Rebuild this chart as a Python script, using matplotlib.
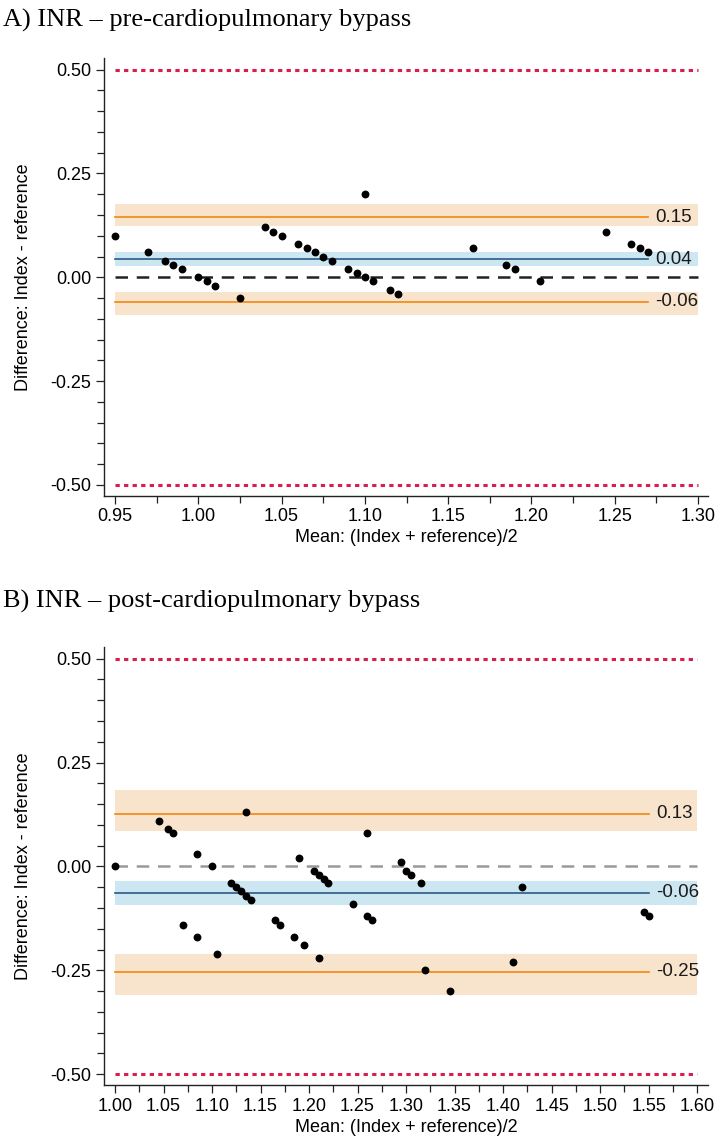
import numpy as np
import matplotlib
matplotlib.use("Agg")
import matplotlib.pyplot as plt
from matplotlib.ticker import MultipleLocator, FormatStrFormatter

# Panel A: pre-cardiopulmonary bypass (mean vs difference)
pre_mean = [0.950, 0.970, 0.980, 0.985, 0.990, 1.000, 1.005, 1.010, 1.025,
            1.040, 1.045, 1.050, 1.060, 1.065, 1.070, 1.075, 1.080, 1.090,
            1.095, 1.100, 1.100, 1.105, 1.115, 1.120, 1.165, 1.185, 1.190,
            1.205, 1.245, 1.260, 1.265, 1.270]
pre_diff = [0.10, 0.06, 0.04, 0.03, 0.02, 0.00, -0.01, -0.02, -0.05,
            0.12, 0.11, 0.10, 0.08, 0.07, 0.06, 0.05, 0.04, 0.02,
            0.01, 0.00, 0.20, -0.01, -0.03, -0.04, 0.07, 0.03, 0.02,
            -0.01, 0.11, 0.08, 0.07, 0.06]
# bias, lower/upper limits of agreement and their confidence bands
pre_bias = 0.043
pre_bias_ci = (0.028, 0.060)
pre_loa = (-0.059, 0.145)
pre_loa_lo_ci = (-0.090, -0.035)
pre_loa_hi_ci = (0.123, 0.176)
pre_labels = ["0.15", "0.04", "-0.06"]
pre_xticks = [0.95, 1.00, 1.05, 1.10, 1.15, 1.20, 1.25, 1.30]

# Panel B: post-cardiopulmonary bypass
post_mean = [1.000, 1.045, 1.055, 1.060, 1.085, 1.100, 1.070, 1.085, 1.105,
             1.120, 1.125, 1.130, 1.135, 1.140, 1.135, 1.165, 1.170, 1.185,
             1.195, 1.210, 1.190, 1.205, 1.210, 1.215, 1.220, 1.245, 1.260,
             1.260, 1.265, 1.295, 1.300, 1.305, 1.315, 1.320, 1.345, 1.410,
             1.420, 1.545, 1.550]
post_diff = [0.00, 0.11, 0.09, 0.08, 0.03, 0.00, -0.14, -0.17, -0.21,
             -0.04, -0.05, -0.06, -0.07, -0.08, 0.13, -0.13, -0.14, -0.17,
             -0.19, -0.22, 0.02, -0.01, -0.02, -0.03, -0.04, -0.09, 0.08,
             -0.12, -0.13, 0.01, -0.01, -0.02, -0.04, -0.25, -0.30, -0.23,
             -0.05, -0.11, -0.12]
post_bias = -0.063
post_bias_ci = (-0.092, -0.035)
post_loa = (-0.253, 0.127)
post_loa_lo_ci = (-0.310, -0.211)
post_loa_hi_ci = (0.086, 0.183)
post_labels = ["0.13", "-0.06", "-0.25"]
post_xticks = [1.00, 1.05, 1.10, 1.15, 1.20, 1.25, 1.30, 1.35, 1.40, 1.45,
               1.50, 1.55, 1.60]

ORANGE = "#F0880F"
ORANGE_BAND = "#F8E4CC"
BLUE = "#2C5A85"
BLUE_BAND = "#CCE7F2"
RED = "#D81E4E"

plt.rcParams['font.family'] = ['Liberation Sans', 'DejaVu Sans']


def bland_altman(ax, x, d, bias, bias_ci, loa, lo_ci, hi_ci, labels, xticks,
                 zero_color, xlim):
    x0, x1 = xticks[0], xticks[-1]
    xmax = max(x)
    # confidence bands
    ax.fill_between([x0, x1], hi_ci[0], hi_ci[1], color=ORANGE_BAND, lw=0, zorder=1)
    ax.fill_between([x0, x1], lo_ci[0], lo_ci[1], color=ORANGE_BAND, lw=0, zorder=1)
    ax.fill_between([x0, x1], bias_ci[0], bias_ci[1], color=BLUE_BAND, lw=0, zorder=1)
    # reference lines
    ax.plot([x0, x1], [0.5, 0.5], color=RED, lw=2.2, ls=(0, (1.4, 1.4)), zorder=2)
    ax.plot([x0, x1], [-0.5, -0.5], color=RED, lw=2.2, ls=(0, (1.4, 1.4)), zorder=2)
    ax.plot([x0, x1], [0, 0], color=zero_color, lw=1.8, ls=(0, (5, 3.5)), zorder=2)
    ax.plot([x0, xmax], [loa[1], loa[1]], color=ORANGE, lw=1.2, zorder=3)
    ax.plot([x0, xmax], [loa[0], loa[0]], color=ORANGE, lw=1.2, zorder=3)
    ax.plot([x0, xmax], [bias, bias], color=BLUE, lw=1.2, zorder=3)
    # values at the line ends
    dx = (xlim[1] - xlim[0]) * 0.012
    for yv, txt in zip([loa[1], bias, loa[0]], labels):
        ax.text(xmax + dx, yv, txt, va='center', ha='left', fontsize=13.5,
                color='#1a1a1a', zorder=4)
    ax.scatter(x, d, s=32, color='black', zorder=5, linewidths=0)

    ax.set_xlim(*xlim)
    ax.set_ylim(-0.526, 0.528)
    ax.set_xticks(xticks)
    ax.xaxis.set_minor_locator(MultipleLocator(0.025))
    ax.xaxis.set_major_formatter(FormatStrFormatter('%.2f'))
    ax.yaxis.set_major_locator(MultipleLocator(0.25))
    ax.yaxis.set_minor_locator(MultipleLocator(0.05))
    ax.yaxis.set_major_formatter(FormatStrFormatter('%.2f'))
    for s in ['top', 'right']:
        ax.spines[s].set_visible(False)
    for s in ['left', 'bottom']:
        ax.spines[s].set_color('#222222')
        ax.spines[s].set_linewidth(1.0)
    ax.tick_params(which='major', length=6, width=0.9, color='#222222',
                   labelsize=13, pad=3)
    ax.tick_params(which='minor', length=5, width=0.9, color='#222222')
    ax.set_xlabel('Mean: (Index + reference)/2', fontsize=13, labelpad=3)
    ax.set_ylabel('Difference: Index - reference', fontsize=13)
    ax.yaxis.set_label_coords(-0.119, 0.5)


fig = plt.figure(figsize=(7.16, 11.37), dpi=100)
ax1 = fig.add_axes([0.1453, 0.564, 0.8436, 0.385])
ax2 = fig.add_axes([0.1453, 0.0457, 0.8436, 0.3853])

bland_altman(ax1, pre_mean, pre_diff, pre_bias, pre_bias_ci, pre_loa,
             pre_loa_lo_ci, pre_loa_hi_ci, pre_labels, pre_xticks,
             '#222222', (0.9434, 1.3060))
bland_altman(ax2, post_mean, post_diff, post_bias, post_bias_ci, post_loa,
             post_loa_lo_ci, post_loa_hi_ci, post_labels, post_xticks,
             '#999999', (0.9887, 1.6113))

fig.text(0.004, 1 - 27 / 1137, 'A) INR \u2013 pre-cardiopulmonary bypass',
         family='Liberation Serif', fontsize=19, va='baseline', ha='left')
fig.text(0.004, 1 - 608 / 1137, 'B) INR \u2013 post-cardiopulmonary bypass',
         family='Liberation Serif', fontsize=19, va='baseline', ha='left')

fig.savefig('out.png', dpi=100)
